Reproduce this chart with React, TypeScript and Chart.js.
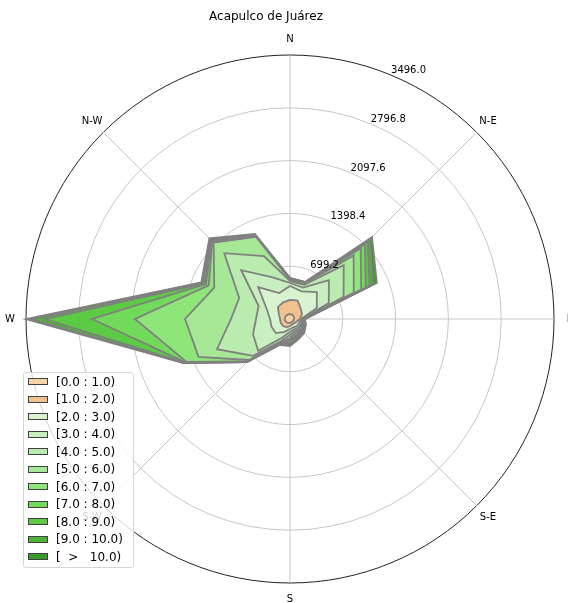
import React, { useEffect, useRef } from 'react';
import { Chart, registerables } from 'chart.js';

Chart.register(...registerables);

const TITLE = 'Acapulco de Juárez';

// 16 compass sectors, clockwise from north
const DIRECTIONS = ['N', 'NNE', 'NE', 'ENE', 'E', 'ESE', 'SE', 'SSE', 'S', 'SSW', 'SW', 'WSW', 'W', 'WNW', 'NW', 'NNW'];
const COMPASS_LABELS = ['N', '', 'N-E', '', 'E', '', 'S-E', '', 'S', '', 'S-W', '', 'W', '', 'N-W', ''];

// radial rings
const RING_TICKS = [0, 699.2, 1398.4, 2097.6, 2796.8, 3496.0];

// wind speed classes
const SPEED_BINS = [
  '[0.0 : 1.0)', '[1.0 : 2.0)', '[2.0 : 3.0)', '[3.0 : 4.0)', '[4.0 : 5.0)', '[5.0 : 6.0)',
  '[6.0 : 7.0)', '[7.0 : 8.0)', '[8.0 : 9.0)', '[9.0 : 10.0)', '[  >   10.0)',
];

// counts per direction for each speed class
const speed0to1 = [66, 64, 61, 58, 53, 49, 47, 48, 51, 55, 62, 67, 70, 68, 66, 65];
const speed1to2 = [186, 201, 138, 114, 79, 44, 32, 31, 42, 64, 70, 65, 62, 91, 159, 173];
const speed2to3 = [185, 132, 304, 212, 14, 39, 53, 40, 39, 66, 133, 133, 133, 172, 371, 133];
const speed3to4 = [40, 53, 225, 172, 13, 27, 27, 27, 40, 80, 331, 265, 185, 119, 318, 225];
const speed4to5 = [26, 40, 278, 212, 13, 13, 26, 26, 40, 53, 93, 516, 331, 278, 318, 304];
const speed5to6 = [13, 13, 186, 146, 7, 13, 14, 27, 40, 26, 79, 265, 609, 358, 198, 279];
const speed6to7 = [14, 13, 132, 106, 6, 14, 13, 26, 26, 14, 27, 172, 663, 79, 27, 13];
const speed7to8 = [0, 0, 80, 66, 0, 13, 13, 13, 27, 0, 0, 13, 569, 40, 13, 6];
const speed8to9 = [13, 14, 53, 53, 14, 0, 13, 14, 13, 13, 13, 14, 622, 27, 13, 7];
const speed9to10 = [0, 0, 39, 53, 0, 13, 14, 13, 13, 0, 0, 13, 172, 26, 13, 7];
const speedOver10 = [0, 0, 40, 53, 0, 0, 13, 26, 27, 0, 0, 0, 80, 13, 14, 6];

const BIN_SERIES = [
  speed0to1, speed1to2, speed2to3, speed3to4, speed4to5, speed5to6,
  speed6to7, speed7to8, speed8to9, speed9to10, speedOver10,
];

const BIN_COLORS = [
  '#f8d4a4', '#f2c28e', '#d8f3d0', '#c9efc1', '#baecb0', '#a6e896',
  '#8ee578', '#72da5a', '#5acb42', '#4bb434', '#3b9a29',
];

const EDGE_COLOR = '#808080';
const GRID_COLOR = '#c6c6c6';
const FONT = '"DejaVu Sans", sans-serif';

// stack the classes so each polygon is the running total
function stackSeries(series: number[][]): number[][] {
  const out: number[][] = [];
  series.forEach((s, k) => {
    out.push(s.map((v, i) => v + (k > 0 ? out[k - 1][i] : 0)));
  });
  return out;
}

const roseText = {
  id: 'roseText',
  afterDraw(chart: any) {
    const s = chart.scales.r;
    const ctx = chart.ctx;
    ctx.save();
    ctx.fillStyle = '#000';

    // compass labels outside the rim
    ctx.font = `10px ${FONT}`;
    ctx.textAlign = 'center';
    ctx.textBaseline = 'middle';
    COMPASS_LABELS.forEach((lab, i) => {
      if (!lab) return;
      const p = s.getPointPosition(i, s.drawingArea + 16);
      ctx.fillText(lab, p.x, p.y);
    });

    // ring values along the NNE spoke
    ctx.textAlign = 'left';
    ctx.textBaseline = 'alphabetic';
    RING_TICKS.forEach((v) => {
      if (v <= 0) return;
      const p = s.getPointPosition(1, s.getDistanceFromCenterForValue(v));
      ctx.fillText(v.toFixed(1), p.x, p.y - 2);
    });

    // title
    ctx.font = `12px ${FONT}`;
    ctx.textAlign = 'center';
    ctx.textBaseline = 'middle';
    ctx.fillText(TITLE, 266, 17);
    ctx.restore();
  },
};

export default function App() {
  const canvasRef = useRef<HTMLCanvasElement | null>(null);

  useEffect(() => {
    if (!canvasRef.current) return;
    const stacked = stackSeries(BIN_SERIES);
    const chart = new Chart(canvasRef.current, {
      type: 'radar',
      data: {
        labels: DIRECTIONS,
        datasets: stacked.map((data, k) => ({
          label: SPEED_BINS[k],
          data,
          backgroundColor: BIN_COLORS[k],
          borderColor: EDGE_COLOR,
          borderWidth: 1.8,
          fill: 'origin',
          pointRadius: 0,
          pointHoverRadius: 0,
        })),
      },
      options: {
        animation: false,
        responsive: false,
        devicePixelRatio: 1,
        layout: { padding: { left: 26, right: 14, top: 55, bottom: 20 } },
        elements: { line: { tension: 0, borderJoinStyle: 'miter' } },
        plugins: {
          legend: { display: false },
          title: { display: false },
          tooltip: { enabled: false },
        },
        scales: {
          r: {
            z: 1,
            min: 0,
            max: RING_TICKS[RING_TICKS.length - 1],
            afterBuildTicks: (scale: any) => {
              scale.ticks = RING_TICKS.map((value) => ({ value }));
            },
            ticks: { display: false },
            pointLabels: { display: false },
            grid: {
              circular: true,
              color: (c: any) => (c.index === RING_TICKS.length - 1 ? '#222' : GRID_COLOR),
              lineWidth: 1,
            },
            angleLines: {
              color: GRID_COLOR,
              lineWidth: (c: any) => (c.index % 2 === 0 ? 1 : 0),
            },
          },
        },
      },
      plugins: [roseText],
    } as any);
    return () => chart.destroy();
  }, []);

  return (
    <div style={{ position: 'fixed', left: 0, top: 0, width: 568, height: 603, background: '#fff' }}>
      <canvas ref={canvasRef} width={568} height={603} style={{ display: 'block' }} />
      <div
        style={{
          position: 'absolute',
          left: 23,
          top: 372,
          width: 111,
          height: 196,
          boxSizing: 'border-box',
          border: '1px solid #d6d6d6',
          borderRadius: 3,
          background: 'rgba(255,255,255,0.8)',
          fontFamily: FONT,
          fontSize: 12,
          color: '#000',
        }}
      >
        {SPEED_BINS.map((lab, k) => (
          <div
            key={k}
            style={{
              position: 'absolute',
              left: 4,
              top: k * 17.5,
              height: 17.5,
              display: 'flex',
              alignItems: 'center',
              whiteSpace: 'pre',
            }}
          >
            <span
              style={{
                display: 'inline-block',
                width: 20,
                height: 7,
                boxSizing: 'border-box',
                background: BIN_COLORS[k],
                border: '1px solid #404040',
                marginRight: 8,
              }}
            />
            <span>{lab}</span>
          </div>
        ))}
      </div>
    </div>
  );
}
